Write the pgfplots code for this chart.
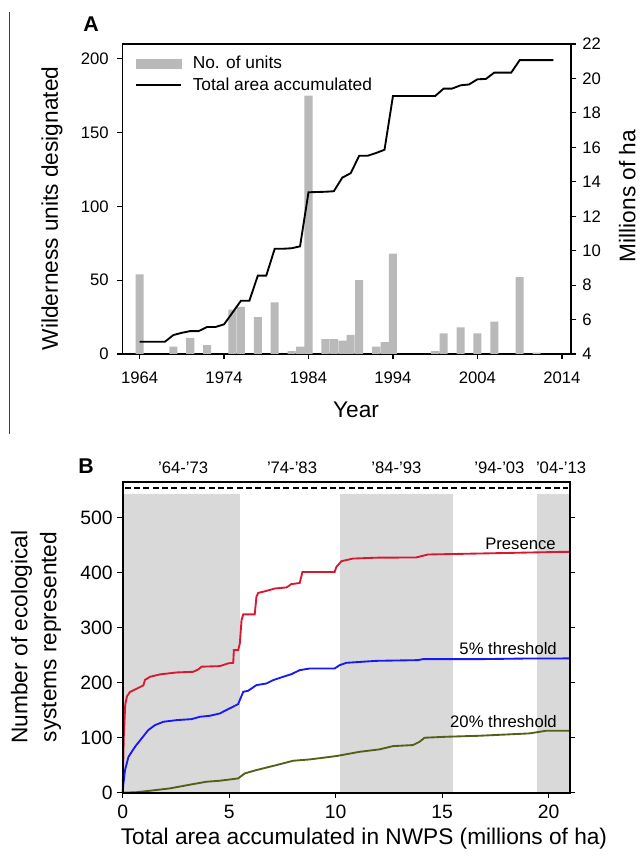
\documentclass[border=0pt]{standalone}
\usepackage{fontspec}
\setmainfont{Liberation Sans}
\usepackage{pgfplots}
\pgfplotsset{compat=1.18}

\definecolor{barcol}{RGB}{185,185,185}
\definecolor{shadecol}{RGB}{217,217,217}
\definecolor{redc}{RGB}{215,25,50}
\definecolor{bluec}{RGB}{25,25,245}
\definecolor{olivec}{RGB}{85,95,25}

\pgfplotsset{
  panel/.style={
    scale only axis,
    clip=false,
    axis line style={line width=1.2pt},
    every tick/.style={line width=0.9pt, black},
    major tick length=4pt,
    tick align=outside,
    /pgf/number format/assume math mode=true,
    /pgf/number format/1000 sep={},
    tick label style={font=\fontsize{12.5}{14}\selectfont},
  }
}

\begin{document}
\begin{tikzpicture}
\useasboundingbox (0pt,0pt) rectangle (480.75pt,644.25pt);
\draw[line width=0.6pt, black!75] (6.75pt,635pt) -- (6.75pt,318.5pt);

% ---------- Panel A: units per year ----------
\begin{axis}[panel,
  at={(92pt,378.75pt)}, anchor=south west,
  width=336.2pt, height=232.5pt,
  xmin=1962, xmax=2015.07, ymin=0, ymax=210,
  xtick={1964,1974,...,2014}, ytick={0,50,...,200},
  xtick pos=left, ytick pos=left,
  xticklabel style={yshift=-6pt},
  yticklabel style={xshift=-3pt},
]
\addplot[ybar, bar width=0.95, fill=barcol, draw=none] coordinates {
  (1964,54) (1968,5) (1970,11) (1972,6) (1975,30) (1976,32) (1978,25)
  (1980,35) (1982,2) (1983,5) (1984,175) (1986,10) (1987,10) (1988,9)
  (1989,13) (1990,50) (1992,5) (1993,8) (1994,68) (1999,2) (2000,14)
  (2002,18) (2004,14) (2006,22) (2009,52) (2011,1)
};
\end{axis}

\begin{axis}[panel,
  at={(92pt,378.75pt)}, anchor=south west,
  width=336.2pt, height=232.5pt,
  xmin=1962, xmax=2015.07, ymin=4, ymax=22,
  ytick={4,6,...,22},
  axis x line=none, axis y line*=right,
  yticklabel style={xshift=1pt},
  legend style={at={(axis description cs:0,1)}, anchor=north west,
    xshift=6pt, yshift=-5pt, draw=none, fill=none,
    font=\fontsize{13}{15}\selectfont, row sep=1.5pt},
  legend cell align=left,
]
\addlegendimage{legend image code/.code={\fill[barcol] (0pt,-3.5pt) rectangle (34pt,3.5pt); \path (40pt,0pt);}}
\addlegendentry{No. of units}
\addplot[black, line width=1.4pt,
  legend image code/.code={\draw[black, line width=1.4pt] (0pt,0pt) -- (34pt,0pt); \path (40pt,0pt);}]
  coordinates {
  (1964,4.71) (1967,4.71) (1968,5.10) (1969,5.23) (1970,5.33) (1971,5.33)
  (1972,5.57) (1973,5.57) (1974,5.72) (1975,6.40) (1976,7.09) (1977,7.09)
  (1978,8.55) (1979,8.55) (1980,10.11) (1981,10.11) (1982,10.14) (1983,10.25)
  (1984,13.39) (1986,13.42) (1987,13.45) (1988,14.24) (1989,14.50) (1990,15.51)
  (1991,15.51) (1992,15.67) (1993,15.86) (1994,18.98) (1999,18.98) (2000,19.41)
  (2001,19.41) (2002,19.60) (2003,19.65) (2004,19.95) (2005,19.97) (2006,20.34)
  (2008,20.34) (2009,21.06) (2013,21.06)
};
\addlegendentry{Total area accumulated}
\end{axis}

\node[font=\fontsize{16}{18}\selectfont\bfseries] at (68.25pt,626.25pt) {A};
\node[font=\fontsize{17}{20}\selectfont] at (267pt,336.75pt) {Year};
\node[font=\fontsize{17}{20}\selectfont, rotate=90] at (39pt,487.9pt) {Wilderness units designated};
\node[font=\fontsize{17}{20}\selectfont, rotate=90, inner sep=1pt] at (470.5pt,497.25pt) {Millions of ha};

% ---------- Panel B: ecological systems ----------
\begin{axis}[panel,
  at={(92pt,49.7pt)}, anchor=south west,
  width=335.5pt, height=233.25pt,
  xmin=0, xmax=21, ymin=0, ymax=565,
  xtick={0,5,...,20}, ytick={0,100,...,500},
  xtick pos=left, yticklabel pos=left,
  axis line style={line width=1.5pt},
  tick label style={font=\fontsize{14.5}{16}\selectfont},
  xticklabel style={yshift=-2pt},
  axis on top,
]
\addplot[fill=shadecol, draw=none] coordinates {(0,0) (0,542) (5.53,542) (5.53,0)} -- cycle;
\addplot[fill=shadecol, draw=none] coordinates {(10.22,0) (10.22,542) (15.53,542) (15.53,0)} -- cycle;
\addplot[fill=shadecol, draw=none] coordinates {(19.44,0) (19.44,542) (21,542) (21,0)} -- cycle;

\addplot[black, line width=1.3pt, dash pattern=on 4.5pt off 2.5pt] coordinates {(0.1,553) (20.9,553)};

\addplot[redc, line width=1.4pt] coordinates {
  (0,0) (0.05,100) (0.12,160) (0.2,175) (0.34,183) (0.66,189) (0.97,195)
  (1.05,205) (1.28,210.6) (1.75,215) (2.53,218.5) (3.31,219.7) (3.55,224)
  (3.7,229) (4.56,230) (4.95,235) (5.19,236) (5.22,259) (5.42,259) (5.5,271)
  (5.58,313.5) (5.66,324) (6.2,324) (6.28,356) (6.36,363) (6.75,366.7)
  (7.14,371) (7.69,373) (7.92,379) (8.31,381) (8.44,401) (9.95,401)
  (10.03,410) (10.27,420.6) (10.81,425.4) (11.9,427) (13.78,427.4)
  (14.33,432.8) (16.75,434.6) (20.66,437.6) (21,437.6)
};
\addplot[bluec, line width=1.4pt] coordinates {
  (0,0) (0.03,15) (0.11,41) (0.27,65) (0.58,83.5) (0.89,98.6) (1.2,113.8)
  (1.52,122.9) (1.91,128.9) (2.53,131.9) (3.23,133.7) (3.63,138) (4.09,139.8)
  (4.56,144) (4.8,148.9) (5.11,154.9) (5.42,161) (5.66,183.4) (5.89,185.2)
  (6.28,195.5) (6.75,198.5) (7.06,204.5) (7.53,210.6) (7.92,215.4)
  (8.31,222.7) (8.78,225.7) (9.95,225.7) (10.19,231.8) (10.5,236)
  (11.9,239.6) (13.86,240.9) (14.1,242.7) (16.75,242.7) (19.1,243.9) (21,244)
};
\addplot[olivec, line width=1.4pt] coordinates {
  (0,0) (0.66,1) (1.28,3.6) (2.22,7.9) (3.31,15.7) (3.94,20) (4.56,21.8)
  (5.42,26) (5.73,35.1) (6.28,41.2) (7.22,50.2) (8.0,58.1) (8.78,60.5)
  (10.03,66.6) (11.13,74.4) (12.06,78.8) (12.69,84.7) (13.63,86.6)
  (13.94,92.6) (14.17,99.9) (15.19,101.7) (16.75,103.5) (19.1,107.8)
  (19.88,112.6) (21,112.6)
};

\node[anchor=east, font=\fontsize{12.5}{14}\selectfont] at (axis cs:20.55,452) {Presence};
\node[anchor=east, font=\fontsize{12.5}{14}\selectfont] at (axis cs:20.6,262) {5\% threshold};
\node[anchor=east, font=\fontsize{12.5}{14}\selectfont] at (axis cs:20.6,129) {20\% threshold};

\node[font=\fontsize{12.5}{14}\selectfont] at (axis cs:2.84,590) {'64-'73};
\node[font=\fontsize{12.5}{14}\selectfont] at (axis cs:7.95,590) {'74-'83};
\node[font=\fontsize{12.5}{14}\selectfont] at (axis cs:12.85,590) {'84-'93};
\node[font=\fontsize{12.5}{14}\selectfont] at (axis cs:17.69,590) {'94-'03};
\node[font=\fontsize{12.5}{14}\selectfont] at (axis cs:20.58,590) {'04-'13};
\end{axis}

\node[font=\fontsize{16}{18}\selectfont\bfseries] at (64.5pt,294.75pt) {B};
\node[font=\fontsize{17}{20}\selectfont] at (273pt,15pt) {Total area accumulated in NWPS (millions of ha)};
\node[font=\fontsize{17}{21.75}\selectfont, rotate=90, align=center] at (27pt,166.5pt)
  {Number of ecological\\systems represented};
\end{tikzpicture}
\end{document}
